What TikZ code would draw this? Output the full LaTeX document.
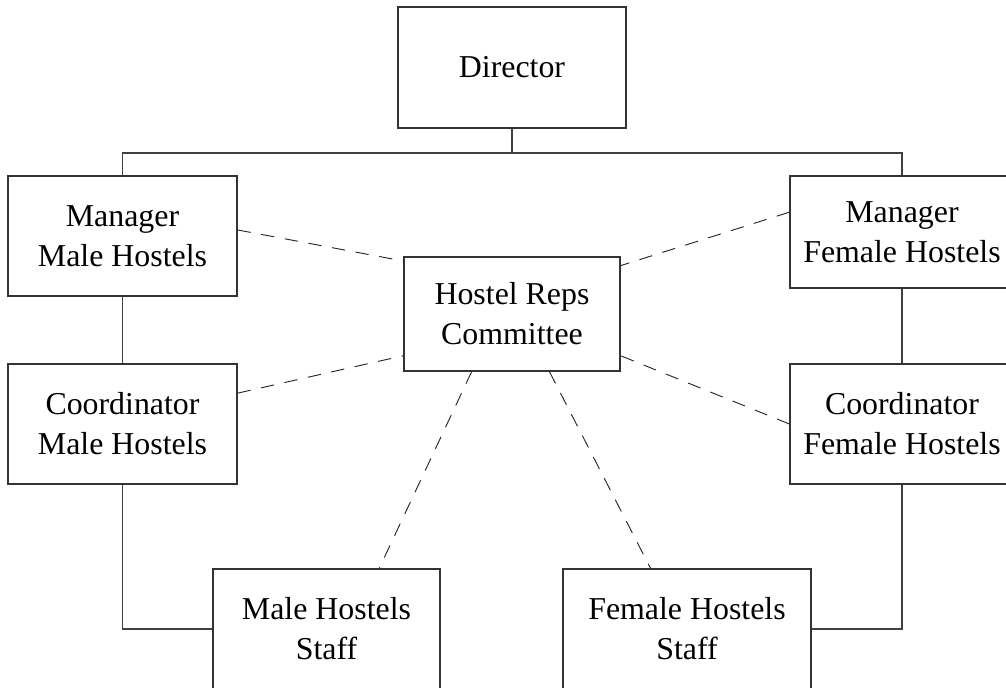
\documentclass[tikz,border=0pt]{standalone}
\usepackage{fontspec}
\setmainfont{Liberation Serif}
\begin{document}
\begin{tikzpicture}[x=0.75pt,y=-0.75pt,
  box/.style={draw=black!80,line width=0.9pt,fill=white,inner sep=0pt,align=center,
    font=\fontsize{23.9}{30}\selectfont},
  tree/.style={draw=black!75,line width=0.9pt},
  link/.style={draw=black!85,line width=0.7pt,dash pattern=on 10pt off 8pt}]
\useasboundingbox (0,0) rectangle (1006,688);
\clip (0,0) rectangle (1006,688);
\node[box,minimum width=171pt,minimum height=90.75pt] (dir) at (512,67.5) {Director};
\node[box,minimum width=171.75pt,minimum height=90pt] (manm) at (122.5,236) {Manager\\Male Hostels};
\node[box,minimum width=168pt,minimum height=84pt] (manf) at (902,232) {Manager\\Female Hostels};
\node[box,minimum width=162pt,minimum height=85.5pt] (reps) at (512,314) {Hostel Reps\\Committee};
\node[box,minimum width=171.75pt,minimum height=90pt] (coom) at (122.5,424) {Coordinator\\Male Hostels};
\node[box,minimum width=168pt,minimum height=90pt] (coof) at (902,424) {Coordinator\\Female Hostels};
\node[box,minimum width=170.25pt,minimum height=90pt] (stam) at (326.5,629) {Male Hostels\\Staff};
\node[box,minimum width=186pt,minimum height=90pt] (staf) at (687,629) {Female Hostels\\Staff};
\coordinate (bus) at (512,153);
% tree connectors
\draw[tree] (dir.south) -- (bus);
\draw[tree] (manm.north) |- (bus) -| (manf.north);
\draw[tree] (manm.south) -- (coom.north);
\draw[tree] (manf.south) -- (coof.north);
\draw[tree] (coom.south) |- (stam.west);
\draw[tree] (coof.south) |- (staf.east);
% dashed links
\draw[link] (manm.3.5) -- (reps.154.7);
\draw[link] (manf.170.4) -- (reps.24.4);
\draw[link] (coom.15.6) -- (reps.201.7);
\draw[link] (coof.west) -- (reps.-21.3);
\draw[link] (reps.235.6) -- (stam.49.9);
\draw[link] (reps.303.7) -- (staf.121);
\end{tikzpicture}
\end{document}
